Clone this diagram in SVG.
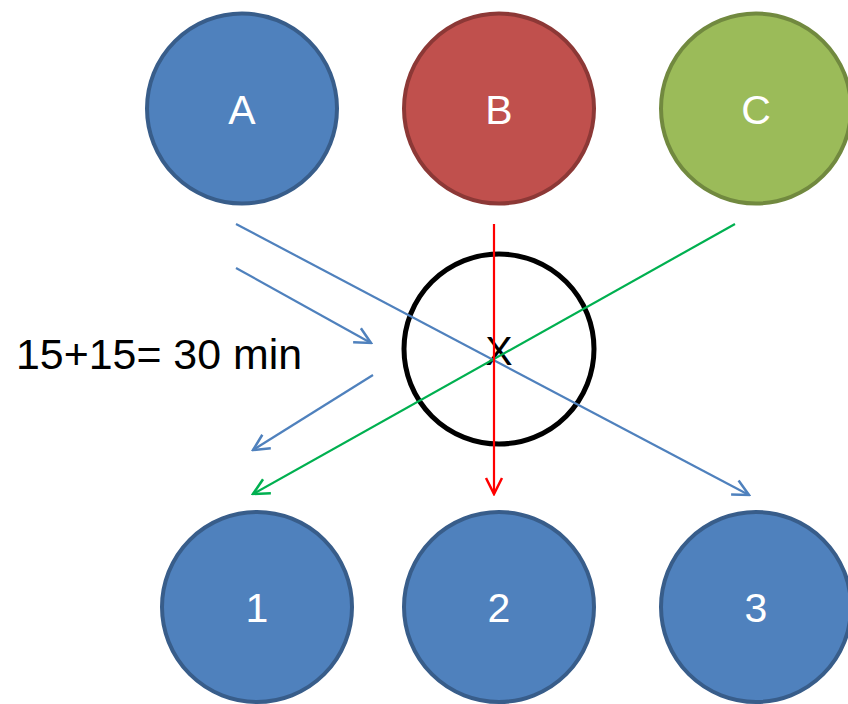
<svg xmlns="http://www.w3.org/2000/svg" width="848" height="704" viewBox="0 0 848 704">
<style>
.n{stroke-width:4}
.blue{fill:#4F81BD;stroke:#385D8A}
.red{fill:#C0504D;stroke:#8C3836}
.green{fill:#9BBB59;stroke:#71893F}
.lbl{font-family:"Liberation Sans",Arial,sans-serif;font-size:41px;fill:#fff;text-anchor:middle}
.dark{fill:#000}
.c{fill:none;stroke-width:2.2}
</style>
<defs>
<marker id="ab" markerUnits="userSpaceOnUse" viewBox="0 0 20 20" refX="18" refY="10" markerWidth="20" markerHeight="20" orient="auto"><path d="M2,2 L18,10 L2,18" fill="none" stroke="#4F81BD" stroke-width="2.5"/></marker>
<marker id="ag" markerUnits="userSpaceOnUse" viewBox="0 0 20 20" refX="18" refY="10" markerWidth="20" markerHeight="20" orient="auto"><path d="M2,2 L18,10 L2,18" fill="none" stroke="#00B050" stroke-width="2.5"/></marker>
<marker id="ar" markerUnits="userSpaceOnUse" viewBox="0 0 20 20" refX="18" refY="10" markerWidth="20" markerHeight="20" orient="auto"><path d="M2,2 L18,10 L2,18" fill="none" stroke="#FF0000" stroke-width="2.5"/></marker>
</defs>
<rect width="848" height="704" fill="#fff"/>
<g id="nodeA"><circle class="n blue" cx="242" cy="108.5" r="95"/><text class="lbl" x="242" y="124">A</text></g>
<g id="nodeB"><circle class="n red" cx="499" cy="108.5" r="95"/><text class="lbl" x="499" y="124">B</text></g>
<g id="nodeC"><circle class="n green" cx="756" cy="108.5" r="95"/><text class="lbl" x="756" y="124">C</text></g>
<g id="nodeX"><circle cx="499" cy="349" r="95" fill="#fff" stroke="#000" stroke-width="5"/><text class="lbl dark" x="499" y="365">X</text></g>
<g id="node1"><circle class="n blue" cx="257" cy="607" r="95"/><text class="lbl" x="257" y="622">1</text></g>
<g id="node2"><circle class="n blue" cx="499" cy="607" r="95"/><text class="lbl" x="499" y="622">2</text></g>
<g id="node3"><circle class="n blue" cx="756" cy="607" r="95"/><text class="lbl" x="756" y="622">3</text></g>
<g id="connectors">
<line class="c" x1="236" y1="224" x2="749" y2="495" stroke="#4F81BD" marker-end="url(#ab)"/>
<line class="c" x1="236" y1="268" x2="371" y2="343" stroke="#4F81BD" marker-end="url(#ab)"/>
<line class="c" x1="373" y1="375" x2="253" y2="450" stroke="#4F81BD" marker-end="url(#ab)"/>
<line class="c" x1="735" y1="224" x2="253" y2="494" stroke="#00B050" marker-end="url(#ag)"/>
<line class="c" x1="494" y1="224" x2="494" y2="494" stroke="#FF0000" marker-end="url(#ar)"/>
</g>
<text x="16" y="369" font-family="Liberation Sans,Arial,sans-serif" font-size="43" fill="#000" textLength="286" lengthAdjust="spacingAndGlyphs">15+15= 30 min</text>
</svg>
